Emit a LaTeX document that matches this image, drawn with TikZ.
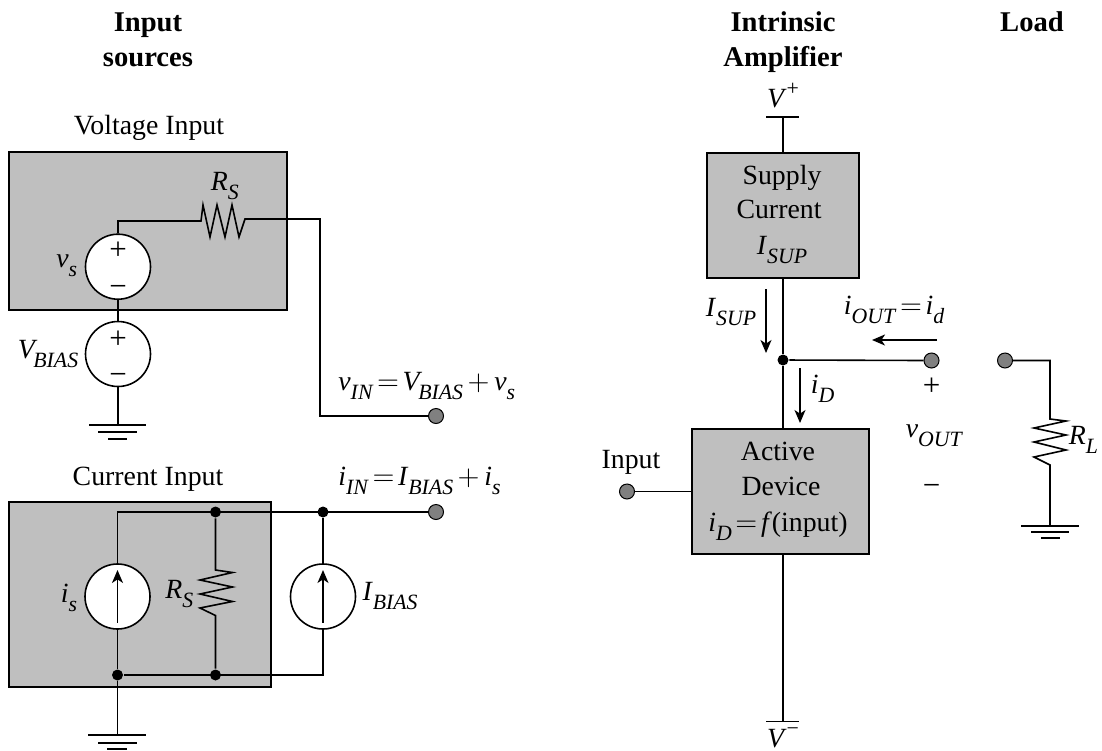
\documentclass[tikz,border=0pt]{standalone}
\usepackage{fontspec}
\setmainfont{Liberation Serif}
\newcommand{\symb}[2]{\textit{#1}\raisebox{-4.6pt}{\fontsize{10.9}{11}\selectfont\textit{#2}}}
\newcommand{\symv}[2]{\textit{#1}\kern-2pt\raisebox{-4.6pt}{\fontsize{10.9}{11}\selectfont\textit{#2}}}
\newcommand{\eqs}{\kern1.8pt$=$\kern1.8pt}
\newcommand{\pls}{\kern2.2pt$+$\kern2.4pt}
\usetikzlibrary{arrows.meta}

\begin{document}
\begin{tikzpicture}[x=0.5pt, y=-0.5pt, line width=0.8pt, font=\fontsize{13.9}{16}\selectfont]
    \tikzstyle{block} = [shape=rectangle, draw=black, fill=black!25, inner sep=0pt, line width=1pt]
    \tikzstyle{source} = [shape=circle, draw=black, fill=white, minimum size=32.5pt, inner sep=0pt]
    \tikzstyle{term} = [shape=circle, draw=black, fill=black!50, minimum size=7.5pt, inner sep=0pt, line width=0.5pt]
    \tikzstyle{joint} = [shape=circle, fill=black, minimum size=5.5pt, inner sep=0pt]
    \tikzstyle{lab} = [inner sep=0pt, anchor=base]
    \tikzstyle{labw} = [inner sep=0pt, anchor=base west]
    \tikzstyle{labe} = [inner sep=0pt, anchor=base east]
    \tikzstyle{sign} = [inner sep=0pt, font=\fontsize{15.5}{16}\selectfont]
    \tikzstyle{head} = [inner sep=0pt, anchor=base, font=\fontsize{14.3}{16}\selectfont\bfseries]
    \tikzstyle{curr} = [-{Stealth[length=6.5pt, width=5.5pt, inset=1.8pt]}]
    \useasboundingbox (0,0) rectangle (1102,750);

    % shaded boxes
    \node (volbox) [block, minimum width=139pt, minimum height=79pt] at (148,231) {};
    \node (curbox) [block, minimum width=131pt, minimum height=92.5pt] at (140,594.5) {};
    \node (supbox) [block, minimum width=76pt, minimum height=62.5pt] at (783,215.5) {};
    \node (actbox) [block, minimum width=88.3pt, minimum height=62.5pt] at (780.4,491.2) {};

    % headings
    \node (inhead1) [head] at (148,31) {Input};
    \node (inhead2) [head] at (148,66) {sources};
    \node (amphead1) [head] at (783,31) {Intrinsic};
    \node (amphead2) [head] at (783,66) {Amplifier};
    \node (loadhead) [head] at (1032,31) {Load};
    \node (vinhead) [lab] at (149,134) {Voltage Input};
    \node (cinhead) [lab] at (148,485) {Current Input};

    % voltage input
    \node (vs) [source] at (118,266.7) {};
    \node (vb) [source] at (118,354) {};
    \node (vsp) [sign] at (118,251) {+};
    \node (vsm) [sign] at (118,291) {−};
    \node (vbp) [sign] at (118,339.5) {+};
    \node (vbm) [sign] at (118,379) {−};
    \node (vslab) [labe] at (78,267.5) {\symb{v}{s}};
    \node (vblab) [labe] at (79,358) {\symv{V}{BIAS}};
    \node (rslab) [labw] at (210,190.5) {\symb{R}{S}};
    \node (vin) [term] at (436,416) {};
    \node (vinlab) [labw] at (337.6,390) {\symb{v}{IN}\eqs\symv{V}{BIAS}\pls\symb{v}{s}};
    \coordinate (g1) at (118,425);
    \draw (vs.south) -- (vb.north);
    \draw (vb.south) -- (g1);
    \draw (vs.north) -- (118,221) -- (201,221) -- (203,205) -- (210,237) -- (217,205) -- (225,237) -- (232,205) -- (239,237) -- (245,219) -- (320,219) -- (320,416) -- (vin.west);
    \draw (89,425) -- (146,425) (98,432) -- (137,432) (108,439) -- (127,439);

    % current input
    \node (is) [source] at (117.5,596.5) {};
    \node (ib) [source] at (323,596.5) {};
    \node (iin) [term] at (436,512) {};
    \node (j1) [joint] at (215.5,512) {};
    \node (j2) [joint] at (323,512) {};
    \node (j3) [joint] at (117.5,675) {};
    \node (j4) [joint] at (215.5,675) {};
    \node (islab) [labe] at (78,602) {\symb{i}{s}};
    \node (rslab2) [labe] at (194,598) {\symb{R}{S}};
    \node (iblab) [labw] at (361.7,600) {\symb{I}{BIAS}};
    \node (iinlab) [labw] at (337.6,485) {\symb{i}{IN}\eqs\symb{I}{BIAS}\pls\symb{i}{s}};
    \coordinate (g2) at (117.5,735);
    \draw (is.north) -- (117.5,512) -- (iin.west);
    \draw (j2) -- (ib.north);
    \draw (j1) -- (215.5,570) -- (232.5,572.5) -- (200,580) -- (232.5,587) -- (200,594) -- (232.5,601.5) -- (200,608) -- (215.5,615.5) -- (j4);
    \draw (is.south) -- (j3);
    \draw (j3) -- (g2);
    \draw (j3) -- (323,675) -- (ib.south);
    \draw [curr] (is.center) ++(0,26) -- (117.5,570);
    \draw [curr] (ib.center) ++(0,26) -- (323,570);
    \draw (88,735) -- (146,735) (98,743) -- (137,743) (107,749) -- (127,749);

    % amplifier
    \node (vplab) [lab] at (783,107) {\textit{V}\raisebox{6pt}{\fontsize{10.9}{11}\selectfont +}};
    \node (vmlab) [lab] at (783,747) {\textit{V}\raisebox{6pt}{\fontsize{10.9}{11}\selectfont −}};
    \coordinate (vptop) at (783,117);
    \coordinate (vmbot) at (783,721.5);
    \draw (vptop) -- (vptop |- supbox.north);
    \draw (766,117) -- (799,117) (766,721.5) -- (799,721.5);
    \node (suptxt1) [lab] at (782,184) {Supply};
    \node (suptxt2) [lab] at (779,218) {Current};
    \node (suptxt3) [lab] at (782,254) {\symb{I}{SUP}};
    \node (acttxt1) [lab] at (778,460) {Active};
    \node (acttxt2) [lab] at (781,495) {Device};
    \node (acttxt3) [lab] at (778,531) {\symb{i}{D}\eqs\textit{f}(input)};
    \node (jout) [joint] at (783,360) {};
    \node (tout) [term] at (931.5,360.5) {};
    \node (tload) [term] at (1005,360.5) {};
    \node (tin) [term] at (627,491.5) {};
    \node (inlab) [lab] at (631,468) {Input};
    \draw (jout |- supbox.south) -- (jout);
    \draw (jout) -- (jout |- actbox.north);
    \draw (vmbot |- actbox.south) -- (vmbot);
    \draw (jout) -- (tout.west);
    \draw (tin.east) -- (tin -| actbox.west);
    \draw [curr] (766,289) -- (766,353);
    \draw [curr] (800,368) -- (800,423);
    \draw [curr] (937,340) -- (872,340);
    \node (isuplab) [labw] at (705,316) {\symb{I}{SUP}};
    \node (idlab) [labw] at (810,393) {\symb{i}{D}};
    \node (ioutlab) [labw] at (843,314) {\symb{i}{OUT}\eqs\symb{i}{d}};
    \node (pluslab) [sign] at (931.5,387) {+};
    \node (voutlab) [labw] at (905,437) {\symb{v}{OUT}};
    \node (minlab) [sign] at (931.5,490) {−};

    % load
    \coordinate (g3) at (1050,526);
    \draw (tload.east) -- (1050,360.5) -- (1050,419) -- (1066,421) -- (1034,428) -- (1066,435) -- (1034,442) -- (1066,450) -- (1034,457) -- (1050,465) -- (g3);
    \draw (1021,526) -- (1079,526) (1031,532) -- (1069,532) (1041,538) -- (1060,538);
    \node (rllab) [labw] at (1068,444) {\symb{R}{L}};
\end{tikzpicture}
\end{document}
